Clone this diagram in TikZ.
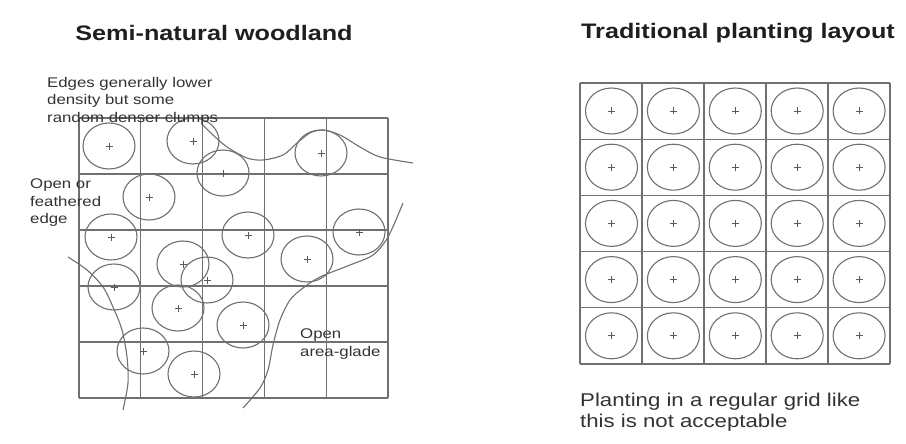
\documentclass[tikz,border=0pt]{standalone}
\usepackage{fontspec}
\setmainfont{Liberation Sans}[FakeStretch=1.2]
\usepackage{tikz}
\usetikzlibrary{positioning}

\definecolor{linegray}{HTML}{707070}
\definecolor{textgray}{HTML}{333333}

\begin{document}
\begin{tikzpicture}[
  x=1pt, y=-1pt,
  gridline/.style={draw=linegray, line width=1.2pt},
  ringline/.style={draw=linegray, line width=1.1pt},
  edgeline/.style={draw=linegray, line width=1.1pt},
  title/.style={font=\fontsize{21}{24}\selectfont\bfseries, text=black!88, inner sep=0pt},
  note/.style={font=\fontsize{14}{17.5}\selectfont, text=textgray, align=left, inner sep=0pt, anchor=west},
  sapling/.pic={
    \draw[ringline] (0,0) ellipse [x radius=26, y radius=23];
    \draw[linegray!80!black, line width=0.8pt] (-3.5,0) -- (3.5,0) (0,-3.5) -- (0,3.5);
  },
]
\useasboundingbox[fill=white] (0,0) rectangle (906,444);

% titles
\node[title] (wildtitle) at (214,33) {Semi-natural woodland};
\node[title] (gridtitle) at (738,33) {Traditional planting layout};

% semi-natural woodland: grid
\foreach \i in {0,...,5} {
  \draw[gridline] (79+\i*61.8,118) -- (79+\i*61.8,398);
  \draw[gridline] (79,118+\i*56) -- (388,118+\i*56);
}

% trees placed at random
\foreach \tx/\ty in {109/146, 193/141, 223/173, 321/153, 149/197, 111/237,
                     248/235, 359/232, 307/259, 183/264, 207/280, 114/287,
                     178/308, 243/325, 143/351, 194/374}
  \pic at (\tx,\ty) {sapling};

% woodland edges
\draw[edgeline] plot[smooth] coordinates {(203,125) (213,135) (227,147) (247,158)
  (263,160) (283,155) (297,143) (310,133) (323,130) (340,135) (360,147) (380,157) (413,163)};
\draw[edgeline] plot[smooth] coordinates {(68,257) (87,270) (103,287) (113,307)
  (122,330) (127,357) (128,383) (123,410)};
\draw[edgeline] plot[smooth] coordinates {(403,203) (388,237) (373,255) (350,265)
  (320,277) (303,288) (290,300) (280,320) (273,345) (268,370) (260,388) (243,408)};

\node[note] (clumps) at (47,101) {Edges generally lower\\density but some\\random denser clumps};
\node[note] (feather) at (30,203) {Open or\\feathered\\edge};
\node[note] (glade) at (300,344) {Open\\area-glade};

% traditional planting: regular grid
\foreach \i in {0,...,5} {
  \draw[gridline] (580+\i*62,83) -- (580+\i*62,364);
  \draw[gridline] (580,83+\i*56.2) -- (890,83+\i*56.2);
}
\foreach \c in {0,...,4}
  \foreach \r in {0,...,4}
    \pic at (611.5+\c*61.9,111+\r*56.2) {sapling};

\node[note, font=\fontsize{18.5}{21}\selectfont] (verdict) at (580,412)
  {Planting in a regular grid like\\this is not acceptable};
\end{tikzpicture}
\end{document}
